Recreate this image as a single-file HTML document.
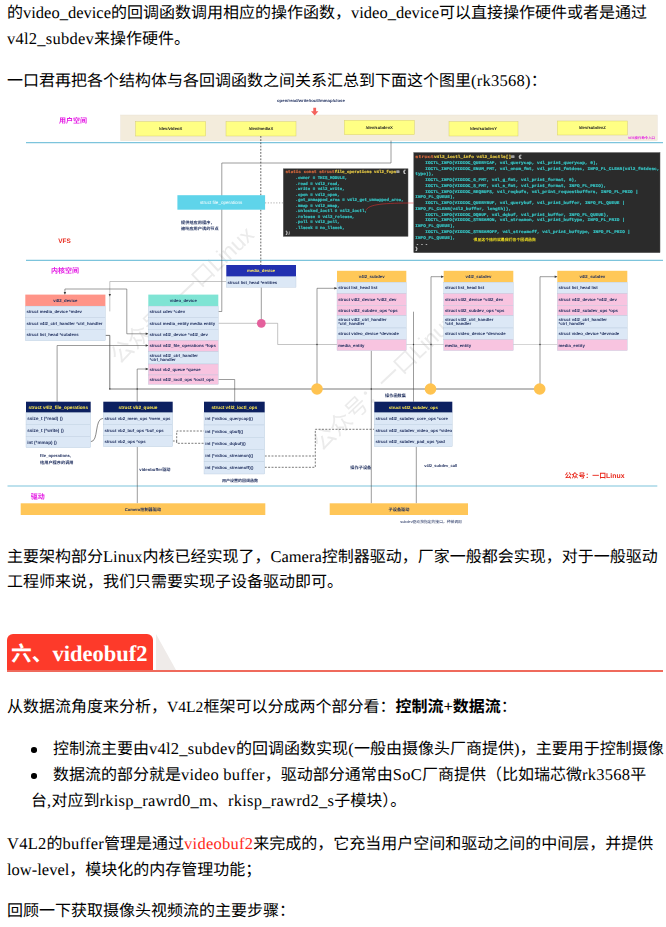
<!DOCTYPE html>
<html lang="zh">
<head>
<meta charset="utf-8">
<title>V4L2</title>
<style>
html,body{margin:0;padding:0;background:#fff;}
body{text-rendering:geometricPrecision;width:666px;height:927px;overflow:hidden;position:relative;font-family:"Liberation Serif",serif;color:#000;}
.t{position:absolute;left:7px;font-size:16px;line-height:26px;white-space:nowrap;margin:0;}
.t i{font-style:normal;font-size:16.5px;}
.w i{letter-spacing:.25px;}
.t i.c{font-size:15.6px;letter-spacing:0;}
.b{font-weight:bold;}
.red{color:#ff2a20;}
#h{position:absolute;left:7px;top:634px;width:656px;height:36px;border-bottom:2px solid #ef6a5c;}
#h .box{position:absolute;left:0;top:0;height:36px;width:146px;background:#fd3a2a;border-radius:6px 6px 0 0;color:#fff;font-weight:bold;font-size:20.8px;line-height:40px;text-indent:4px;white-space:nowrap;}
#h .box i{font-style:normal;font-size:22.5px;}
#h .tri{position:absolute;left:149px;top:0;width:0;height:0;border-bottom:36px solid #efebe9;border-right:20px solid transparent;}
.dot{position:absolute;width:5.6px;height:5.6px;border-radius:50%;background:#000;left:31.3px;}
#img{position:absolute;left:0px;top:92px;filter:blur(0.4px);}
.z{font-family:"Liberation Sans","Noto Sans CJK SC",sans-serif;line-height:0;letter-spacing:0;}
</style>
</head>
<body>
<p class="t" style="top:0px"><span class="z">的</span><i>video_device</i><span class="z">的回调函数调用相应的操作函数，</span><i>video_device</i><span class="z">可以直接操作硬件或者是通过</span></p>
<p class="t w" style="top:26px"><i>v4l2_subdev</i><span class="z">来操作硬件。</span></p>
<p class="t w" style="top:68px"><span class="z">一口君再把各个结构体与各回调函数之间关系汇总到下面这个图里</span><i>(rk3568)</i><span class="z">：</span></p>

<svg id="img" width="666" height="440" viewBox="0 368 2664 1760">
<g transform="rotate(-43.5 478 1460)"><text x="478" y="1460" font-size="89.2" fill="#ebebeb" font-family="Liberation Sans,Noto Sans CJK SC,sans-serif">公众号：一口</text><text x="1013.2" y="1460" font-size="89.2" fill="#ebebeb" font-family="Liberation Sans,sans-serif">Linux</text></g>
<g transform="rotate(-43.5 1286 1808)"><text x="1286" y="1808" font-size="89.2" fill="#ebebeb" font-family="Liberation Sans,Noto Sans CJK SC,sans-serif">公众号：一口</text><text x="1821.2" y="1808" font-size="89.2" fill="#ebebeb" font-family="Liberation Sans,sans-serif">Linux</text></g>
<text x="236" y="490.4" font-size="28" fill="#e41be4" font-weight="bold" font-family="Liberation Sans,Noto Sans CJK SC,sans-serif">用户空间</text>
<rect x="482.8" y="460" width="2146.4" height="102.8" fill="#f3ecdc" stroke="#e6dfd0" stroke-width="1.6"/>
<rect x="542.8" y="486.8" width="280" height="57.2" fill="#ffff84" stroke="#d8d070" stroke-width="2"/>
<text x="682.8" y="521" font-size="16.8" fill="#222" font-family="Liberation Sans,sans-serif" text-anchor="middle" font-weight="bold">/dev/videoX</text>
<rect x="904" y="486.8" width="280" height="57.2" fill="#ffff84" stroke="#d8d070" stroke-width="2"/>
<text x="1044" y="521" font-size="16.8" fill="#222" font-family="Liberation Sans,sans-serif" text-anchor="middle" font-weight="bold">/dev/mediaX</text>
<rect x="1377.2" y="481.2" width="280" height="57.6" fill="#ffff84" stroke="#d8d070" stroke-width="2"/>
<text x="1517.2" y="515.6" font-size="16.8" fill="#222" font-family="Liberation Sans,sans-serif" text-anchor="middle" font-weight="bold">/dev/subdevX</text>
<rect x="1796" y="486.8" width="276" height="57.2" fill="#ffff84" stroke="#d8d070" stroke-width="2"/>
<text x="1934" y="521" font-size="16.8" fill="#222" font-family="Liberation Sans,sans-serif" text-anchor="middle" font-weight="bold">/dev/subdevY</text>
<rect x="2229.2" y="484" width="280" height="56" fill="#ffff84" stroke="#d8d070" stroke-width="2"/>
<text x="2369.2" y="517.6" font-size="16.8" fill="#222" font-family="Liberation Sans,sans-serif" text-anchor="middle" font-weight="bold">/dev/subdevZ</text>
<text x="1108" y="408" font-size="17.2" fill="#1c2c5c" font-family="Liberation Sans,sans-serif" font-weight="bold">open/read/write/ioctl/mmap/close</text>
<polygon points="1253.2,431.2 1264.4,431.2 1264.4,444.8 1273.6,444.8 1258.8,461.6 1244,444.8 1253.2,444.8" fill="#f4625c"/>
<text x="2512" y="556.8" font-size="13.6" fill="#e41be4" font-family="Liberation Sans,sans-serif" font-weight="bold">VFS</text><text x="2538.45" y="556.8" font-size="13.6" fill="#e41be4" font-weight="bold" font-family="Liberation Sans,Noto Sans CJK SC,sans-serif">操作命令入口</text>
<polyline points="104,570.4 2652,570.4" fill="none" stroke="#7cc4dc" stroke-width="5.6"/>
<polyline points="104,1041.6 2652,1041.6" fill="none" stroke="#7cc4dc" stroke-width="4.4"/>
<polyline points="30,1944 2629.2,1944" fill="none" stroke="#7cc4dc" stroke-width="4.8"/>
<text x="233.2" y="970" font-size="25.6" fill="#e8281c" font-family="Liberation Sans,sans-serif" font-weight="bold">VFS</text>
<text x="204" y="1092.8" font-size="28" fill="#e41be4" font-weight="bold" font-family="Liberation Sans,Noto Sans CJK SC,sans-serif">内核空间</text>
<text x="122.8" y="1994" font-size="28" fill="#e41be4" font-weight="bold" font-family="Liberation Sans,Noto Sans CJK SC,sans-serif">驱动</text>
<polyline points="1564,562.8 1564,652 887.2,652 887.2,1246 873.2,1246" fill="none" stroke="#4a4a4a" stroke-width="2.2"/>
<polyline points="905.2,1126 439.2,1126 439.2,1245.6" fill="none" stroke="#888" stroke-width="2"/>
<polyline points="1043.2,544 1043.2,1060" fill="none" stroke="#222" stroke-width="2.8" stroke-dasharray="7.2 5.6"/>
<polyline points="1060,811.6 1134,811.6" fill="none" stroke="#666" stroke-width="2.2" stroke-dasharray="4.8 6.4"/>
<polyline points="259.6,1178 259.6,1156 507.2,1156 507.2,1335.2 593.2,1335.2" fill="none" stroke="#4a4a4a" stroke-width="2.2"/>
<polyline points="421.6,1341.6 439.2,1341.6 439.2,1556 2160,1556" fill="none" stroke="#333" stroke-width="2.6"/>
<polyline points="593.2,1382 228.4,1382 228.4,1606.8" fill="none" stroke="#4a4a4a" stroke-width="2.2"/>
<polyline points="593.2,1476 548.8,1476 548.8,1606.8" fill="none" stroke="#4a4a4a" stroke-width="2.2"/>
<polyline points="873.2,1518 938.8,1518 938.8,1606.8" fill="none" stroke="#4a4a4a" stroke-width="2.2"/>
<polyline points="873.2,1293.2 1028,1293.2" fill="none" stroke="#888" stroke-width="2"/>
<polyline points="1045.2,1149.2 1045.2,1276" fill="none" stroke="#4a4a4a" stroke-width="2.2"/>
<polyline points="1062,1293.2 1110.8,1293.2 1110.8,1378 1348,1378" fill="none" stroke="#888" stroke-width="2"/>
<polyline points="1625.2,1378 2229.2,1378" fill="none" stroke="#aaa" stroke-width="2"/>
<polyline points="1348,1153.2 1268,1153.2 1268,1556" fill="none" stroke="#4a4a4a" stroke-width="2.2"/>
<polyline points="1774.8,1106.8 1724,1106.8 1724,1556" fill="none" stroke="#4a4a4a" stroke-width="2.2"/>
<polyline points="2229.2,1106.8 2160,1106.8 2160,1556" fill="none" stroke="#4a4a4a" stroke-width="2.2"/>
<polyline points="1654,1246.8 1654,1606.8" fill="none" stroke="#4a4a4a" stroke-width="2.2"/>
<polyline points="1485.2,1402.8 1485.2,2013.2" fill="none" stroke="#4a4a4a" stroke-width="2.2"/>
<polyline points="1665.2,1786.8 1665.2,2013.2" fill="none" stroke="#4a4a4a" stroke-width="2.2"/>
<polyline points="549.2,1786.8 549.2,2013.2" fill="none" stroke="#4a4a4a" stroke-width="2.2"/>
<polyline points="690.8,1764 706.8,1764 706.8,1724 816,1724" fill="none" stroke="#333" stroke-width="2.6" stroke-dasharray="8 5.6"/>
<polyline points="706.8,1764 706.8,1773.2 816,1773.2" fill="none" stroke="#333" stroke-width="2.6" stroke-dasharray="8 5.6"/>
<polyline points="1058.8,1824 1261.2,1824" fill="none" stroke="#333" stroke-width="2.6" stroke-dasharray="8 5.6"/>
<polyline points="1058.8,1869.2 1261.2,1869.2 1261.2,1717.2 1497.2,1717.2" fill="none" stroke="#333" stroke-width="2.6" stroke-dasharray="8 5.6"/>
<path d="M362.8 1766.8 C396 1766.8 376 1673.2 413.2 1673.2" fill="none" stroke="#3a3a3a" stroke-width="2.4"/>
<circle cx="1268" cy="1378" r="2.8" fill="#3a3a3a"/>
<circle cx="1485.2" cy="1556" r="2.8" fill="#3a3a3a"/>
<circle cx="1654" cy="1378" r="2.8" fill="#3a3a3a"/>
<circle cx="1724" cy="1378" r="2.8" fill="#3a3a3a"/>
<circle cx="2160" cy="1378" r="2.8" fill="#3a3a3a"/>
<circle cx="439.2" cy="1556" r="2.8" fill="#3a3a3a"/>
<circle cx="548.8" cy="1556" r="2.8" fill="#3a3a3a"/>
<polygon points="254.8,1167.6 264.4,1167.6 259.6,1178" fill="#3a3a3a"/>
<polygon points="434.4,1175.6 444,1175.6 439.2,1186" fill="#3a3a3a"/>
<polygon points="582.8,1330.4 582.8,1340 593.2,1335.2" fill="#3a3a3a"/>
<polygon points="582.8,1377.2 582.8,1386.8 593.2,1382" fill="#3a3a3a"/>
<polygon points="582.8,1471.2 582.8,1480.8 593.2,1476" fill="#3a3a3a"/>
<polygon points="1337.6,1148.4 1337.6,1158 1348,1153.2" fill="#3a3a3a"/>
<polygon points="1764.4,1102 1764.4,1111.6 1774.8,1106.8" fill="#3a3a3a"/>
<polygon points="2218.8,1102 2218.8,1111.6 2229.2,1106.8" fill="#3a3a3a"/>
<rect x="709.6" y="780.8" width="350.8" height="58" fill="#5fd4ea"/>
<text x="884.8" y="816" font-size="18.4" fill="#ffffff" font-family="Liberation Sans,sans-serif" text-anchor="middle">struct file_operations</text>
<text x="724" y="896" font-size="16.8" fill="#1c2c5c" font-weight="bold" font-family="Liberation Sans,Noto Sans CJK SC,sans-serif">提供给应用程序，</text>
<text x="724" y="919.2" font-size="16.8" fill="#1c2c5c" font-weight="bold" font-family="Liberation Sans,Noto Sans CJK SC,sans-serif">被响应用户读的节点</text>
<rect x="1133.2" y="675.2" width="498.8" height="270" fill="#2b2b2b" stroke="#555" stroke-width="2"/>
<text x="1142" y="693.6" font-size="16.8" fill="#d4683c" font-family="Liberation Mono,monospace" font-weight="bold" stroke-width="0.8" stroke="#d4683c" textLength="196.8" lengthAdjust="spacingAndGlyphs">static const struct </text>
<text x="1338.8" y="693.6" font-size="16.8" fill="#e2c544" font-family="Liberation Mono,monospace" font-weight="bold" stroke-width="0.8" stroke="#e2c544" textLength="246" lengthAdjust="spacingAndGlyphs">file_operations v4l2_fops</text>
<text x="1584.8" y="693.6" font-size="16.8" fill="#dddddd" font-family="Liberation Mono,monospace" font-weight="bold" stroke-width="0.8" stroke="#dddddd" textLength="39.4" lengthAdjust="spacingAndGlyphs"> = {</text>
<text x="1182" y="715.8" font-size="16.8" fill="#36c2c2" font-family="Liberation Mono,monospace" font-weight="bold" stroke-width="0.8" stroke="#36c2c2" textLength="206.6" lengthAdjust="spacingAndGlyphs">.owner = THIS_MODULE,</text>
<text x="1182" y="738" font-size="16.8" fill="#36c2c2" font-family="Liberation Mono,monospace" font-weight="bold" stroke-width="0.8" stroke="#36c2c2" textLength="177.1" lengthAdjust="spacingAndGlyphs">.read = v4l2_read,</text>
<text x="1182" y="760.2" font-size="16.8" fill="#36c2c2" font-family="Liberation Mono,monospace" font-weight="bold" stroke-width="0.8" stroke="#36c2c2" textLength="196.8" lengthAdjust="spacingAndGlyphs">.write = v4l2_write,</text>
<text x="1182" y="782.4" font-size="16.8" fill="#36c2c2" font-family="Liberation Mono,monospace" font-weight="bold" stroke-width="0.8" stroke="#36c2c2" textLength="177.1" lengthAdjust="spacingAndGlyphs">.open = v4l2_open,</text>
<text x="1182" y="804.6" font-size="16.8" fill="#36c2c2" font-family="Liberation Mono,monospace" font-weight="bold" stroke-width="0.8" stroke="#36c2c2" textLength="433" lengthAdjust="spacingAndGlyphs">.get_unmapped_area = v4l2_get_unmapped_area,</text>
<text x="1182" y="826.8" font-size="16.8" fill="#36c2c2" font-family="Liberation Mono,monospace" font-weight="bold" stroke-width="0.8" stroke="#36c2c2" textLength="177.1" lengthAdjust="spacingAndGlyphs">.mmap = v4l2_mmap,</text>
<text x="1182" y="849" font-size="16.8" fill="#36c2c2" font-family="Liberation Mono,monospace" font-weight="bold" stroke-width="0.8" stroke="#36c2c2" textLength="285.4" lengthAdjust="spacingAndGlyphs">.unlocked_ioctl = v4l2_ioctl,</text>
<text x="1182" y="871.2" font-size="16.8" fill="#36c2c2" font-family="Liberation Mono,monospace" font-weight="bold" stroke-width="0.8" stroke="#36c2c2" textLength="236.2" lengthAdjust="spacingAndGlyphs">.release = v4l2_release,</text>
<text x="1182" y="893.4" font-size="16.8" fill="#36c2c2" font-family="Liberation Mono,monospace" font-weight="bold" stroke-width="0.8" stroke="#36c2c2" textLength="177.1" lengthAdjust="spacingAndGlyphs">.poll = v4l2_poll,</text>
<text x="1182" y="915.6" font-size="16.8" fill="#36c2c2" font-family="Liberation Mono,monospace" font-weight="bold" stroke-width="0.8" stroke="#36c2c2" textLength="196.8" lengthAdjust="spacingAndGlyphs">.llseek = no_llseek,</text>
<text x="1142" y="937.8" font-size="16.8" fill="#ddd" font-family="Liberation Mono,monospace" font-weight="bold" stroke-width="0.8" stroke="#ddd" textLength="19.7" lengthAdjust="spacingAndGlyphs">};</text>
<rect x="1655.2" y="610.4" width="984.8" height="400.4" fill="#2b2b2b" stroke="#555" stroke-width="2"/>
<text x="1661.2" y="632" font-size="16.8" fill="#d4683c" font-family="Liberation Mono,monospace" font-weight="bold" stroke-width="0.8" stroke="#d4683c" textLength="74.5" lengthAdjust="spacingAndGlyphs">struct </text>
<text x="1735.7" y="632" font-size="16.8" fill="#e2c544" font-family="Liberation Mono,monospace" font-weight="bold" stroke-width="0.8" stroke="#e2c544" textLength="308.6" lengthAdjust="spacingAndGlyphs">v4l2_ioctl_info v4l2_ioctls[]</text>
<text x="2044.2" y="632" font-size="16.8" fill="#dddddd" font-family="Liberation Mono,monospace" font-weight="bold" stroke-width="0.8" stroke="#dddddd" textLength="42.6" lengthAdjust="spacingAndGlyphs"> = {</text>
<text x="1701.2" y="655.1" font-size="16.8" fill="#36c2c2" font-family="Liberation Mono,monospace" font-weight="bold" stroke-width="0.8" stroke="#36c2c2" textLength="691.6" lengthAdjust="spacingAndGlyphs">IOCTL_INFO(VIDIOC_QUERYCAP, v4l_querycap, v4l_print_querycap, 0),</text>
<text x="1701.2" y="678.2" font-size="16.8" fill="#36c2c2" font-family="Liberation Mono,monospace" font-weight="bold" stroke-width="0.8" stroke="#36c2c2" textLength="936.3" lengthAdjust="spacingAndGlyphs">IOCTL_INFO(VIDIOC_ENUM_FMT, v4l_enum_fmt, v4l_print_fmtdesc, INFO_FL_CLEAR(v4l2_fmtdesc,</text>
<text x="1661.2" y="701.2" font-size="16.8" fill="#36c2c2" font-family="Liberation Mono,monospace" font-weight="bold" stroke-width="0.8" stroke="#36c2c2" textLength="74.5" lengthAdjust="spacingAndGlyphs">type)),</text>
<text x="1701.2" y="724.3" font-size="16.8" fill="#36c2c2" font-family="Liberation Mono,monospace" font-weight="bold" stroke-width="0.8" stroke="#36c2c2" textLength="606.5" lengthAdjust="spacingAndGlyphs">IOCTL_INFO(VIDIOC_G_FMT, v4l_g_fmt, v4l_print_format, 0),</text>
<text x="1701.2" y="747.4" font-size="16.8" fill="#36c2c2" font-family="Liberation Mono,monospace" font-weight="bold" stroke-width="0.8" stroke="#36c2c2" textLength="723.5" lengthAdjust="spacingAndGlyphs">IOCTL_INFO(VIDIOC_S_FMT, v4l_s_fmt, v4l_print_format, INFO_FL_PRIO),</text>
<text x="1701.2" y="770.5" font-size="16.8" fill="#36c2c2" font-family="Liberation Mono,monospace" font-weight="bold" stroke-width="0.8" stroke="#36c2c2" textLength="851.2" lengthAdjust="spacingAndGlyphs">IOCTL_INFO(VIDIOC_REQBUFS, v4l_reqbufs, v4l_print_requestbuffers, INFO_FL_PRIO |</text>
<text x="1661.2" y="793.6" font-size="16.8" fill="#36c2c2" font-family="Liberation Mono,monospace" font-weight="bold" stroke-width="0.8" stroke="#36c2c2" textLength="159.6" lengthAdjust="spacingAndGlyphs">INFO_FL_QUEUE),</text>
<text x="1701.2" y="816.6" font-size="16.8" fill="#36c2c2" font-family="Liberation Mono,monospace" font-weight="bold" stroke-width="0.8" stroke="#36c2c2" textLength="798" lengthAdjust="spacingAndGlyphs">IOCTL_INFO(VIDIOC_QUERYBUF, v4l_querybuf, v4l_print_buffer, INFO_FL_QUEUE |</text>
<text x="1661.2" y="839.7" font-size="16.8" fill="#36c2c2" font-family="Liberation Mono,monospace" font-weight="bold" stroke-width="0.8" stroke="#36c2c2" textLength="383" lengthAdjust="spacingAndGlyphs">INFO_FL_CLEAR(v4l2_buffer, length)),</text>
<text x="1701.2" y="862.8" font-size="16.8" fill="#36c2c2" font-family="Liberation Mono,monospace" font-weight="bold" stroke-width="0.8" stroke="#36c2c2" textLength="734.2" lengthAdjust="spacingAndGlyphs">IOCTL_INFO(VIDIOC_DQBUF, v4l_dqbuf, v4l_print_buffer, INFO_FL_QUEUE),</text>
<text x="1701.2" y="885.9" font-size="16.8" fill="#36c2c2" font-family="Liberation Mono,monospace" font-weight="bold" stroke-width="0.8" stroke="#36c2c2" textLength="798" lengthAdjust="spacingAndGlyphs">IOCTL_INFO(VIDIOC_STREAMON, v4l_streamon, v4l_print_buftype, INFO_FL_PRIO |</text>
<text x="1661.2" y="909" font-size="16.8" fill="#36c2c2" font-family="Liberation Mono,monospace" font-weight="bold" stroke-width="0.8" stroke="#36c2c2" textLength="159.6" lengthAdjust="spacingAndGlyphs">INFO_FL_QUEUE),</text>
<text x="1701.2" y="932" font-size="16.8" fill="#36c2c2" font-family="Liberation Mono,monospace" font-weight="bold" stroke-width="0.8" stroke="#36c2c2" textLength="819.3" lengthAdjust="spacingAndGlyphs">IOCTL_INFO(VIDIOC_STREAMOFF, v4l_streamoff, v4l_print_buftype, INFO_FL_PRIO |</text>
<text x="1661.2" y="955.1" font-size="16.8" fill="#36c2c2" font-family="Liberation Mono,monospace" font-weight="bold" stroke-width="0.8" stroke="#36c2c2" textLength="159.6" lengthAdjust="spacingAndGlyphs">INFO_FL_QUEUE),</text>
<text x="1661.2" y="978.2" font-size="16.8" fill="#ddd" font-family="Liberation Mono,monospace" font-weight="bold" stroke-width="0.8" stroke="#ddd" textLength="53.2" lengthAdjust="spacingAndGlyphs">  ...</text>
<text x="1661.2" y="1001.3" font-size="16.8" fill="#ddd" font-family="Liberation Mono,monospace" font-weight="bold" stroke-width="0.8" stroke="#ddd" textLength="10.6" lengthAdjust="spacingAndGlyphs">}</text>
<path d="M1464 842 C1472 816 1540 812 1654.8 812" fill="none" stroke="#e83030" stroke-width="2.2"/>
<text x="1894" y="962" font-size="15.6" fill="#f0e020" font-weight="bold" font-family="Liberation Sans,Noto Sans CJK SC,sans-serif">很显这个结构就是我们各个回调函数</text>
<rect x="101.2" y="1178.4" width="320.4" height="46" fill="#ff9488"/>
<text x="261.4" y="1207.4" font-size="17.2" fill="#1c2c5c" font-family="Liberation Sans,sans-serif" text-anchor="middle" font-weight="bold">v4l2_device</text>
<rect x="101.2" y="1224.4" width="320.4" height="45.6" fill="#dce8f6" stroke="#b4c6da" stroke-width="1.4"/>
<text x="106" y="1253.2" font-size="17.2" fill="#1c2c5c" font-family="Liberation Sans,sans-serif" font-weight="bold">struct media_device *mdev</text>
<rect x="101.2" y="1270" width="320.4" height="46.8" fill="#dce8f6" stroke="#b4c6da" stroke-width="1.4"/>
<text x="106" y="1299.4" font-size="17.2" fill="#1c2c5c" font-family="Liberation Sans,sans-serif" font-weight="bold">struct v4l2_ctrl_handler *ctrl_handler</text>
<rect x="101.2" y="1316.8" width="320.4" height="46" fill="#dce8f6" stroke="#b4c6da" stroke-width="1.4"/>
<text x="106" y="1345.8" font-size="17.2" fill="#1c2c5c" font-family="Liberation Sans,sans-serif" font-weight="bold">struct list_head *subdevs</text>
<rect x="593.2" y="1178.4" width="280" height="46" fill="#7fe4d4"/>
<text x="733.2" y="1207.4" font-size="17.2" fill="#1c2c5c" font-family="Liberation Sans,sans-serif" text-anchor="middle" font-weight="bold">video_device</text>
<rect x="593.2" y="1224.4" width="280" height="45.6" fill="#dce8f6" stroke="#b4c6da" stroke-width="1.4"/>
<text x="598" y="1253.2" font-size="17.2" fill="#1c2c5c" font-family="Liberation Sans,sans-serif" font-weight="bold">struct cdev *cdev</text>
<rect x="593.2" y="1270" width="280" height="46.8" fill="#dce8f6" stroke="#b4c6da" stroke-width="1.4"/>
<text x="598" y="1299.4" font-size="17.2" fill="#1c2c5c" font-family="Liberation Sans,sans-serif" font-weight="bold">struct media_entity media entity</text>
<rect x="593.2" y="1316.8" width="280" height="44" fill="#dce8f6" stroke="#b4c6da" stroke-width="1.4"/>
<text x="598" y="1344.8" font-size="17.2" fill="#1c2c5c" font-family="Liberation Sans,sans-serif" font-weight="bold">struct v4l2_device *v4l2_dev</text>
<rect x="593.2" y="1360.8" width="280" height="46" fill="#f8c4e0" stroke="#b4c6da" stroke-width="1.4"/>
<text x="598" y="1389.8" font-size="17.2" fill="#1c2c5c" font-family="Liberation Sans,sans-serif" font-weight="bold">struct v4l2_file_operations *fops</text>
<rect x="593.2" y="1406.8" width="280" height="49.2" fill="#dce8f6" stroke="#b4c6da" stroke-width="1.4"/>
<text x="598" y="1427.8" font-size="17.2" fill="#1c2c5c" font-family="Liberation Sans,sans-serif" font-weight="bold">struct v4l2_ctrl_handler</text>
<text x="598" y="1445.8" font-size="17.2" fill="#1c2c5c" font-family="Liberation Sans,sans-serif" font-weight="bold">*ctrl_handler</text>
<rect x="593.2" y="1456" width="280" height="44" fill="#f8c4e0" stroke="#b4c6da" stroke-width="1.4"/>
<text x="598" y="1484" font-size="17.2" fill="#1c2c5c" font-family="Liberation Sans,sans-serif" font-weight="bold">struct vb2_queue *queue</text>
<rect x="593.2" y="1500" width="280" height="37.6" fill="#f8c4e0" stroke="#b4c6da" stroke-width="1.4"/>
<text x="598" y="1524.8" font-size="17.2" fill="#1c2c5c" font-family="Liberation Sans,sans-serif" font-weight="bold">struct v4l2_ioctl_ops *ioctl_ops</text>
<rect x="905.2" y="1060" width="278.8" height="46.8" fill="#2230b0"/>
<text x="1044.6" y="1089.4" font-size="17.2" fill="#ffe860" font-family="Liberation Sans,sans-serif" text-anchor="middle" font-weight="bold">media_device</text>
<rect x="905.2" y="1106.8" width="278.8" height="42.4" fill="#dce8f6" stroke="#b4c6da" stroke-width="1.4"/>
<text x="910" y="1134" font-size="17.2" fill="#1c2c5c" font-family="Liberation Sans,sans-serif" font-weight="bold">struct list_head *entities</text>
<rect x="1348" y="1083.2" width="277.2" height="45.6" fill="#ffc858"/>
<text x="1486.6" y="1112" font-size="17.2" fill="#1c2c5c" font-family="Liberation Sans,sans-serif" text-anchor="middle" font-weight="bold">v4l2_subdev</text>
<rect x="1348" y="1128.8" width="277.2" height="44.8" fill="#dce8f6" stroke="#b4c6da" stroke-width="1.4"/>
<text x="1352.8" y="1157.2" font-size="17.2" fill="#1c2c5c" font-family="Liberation Sans,sans-serif" font-weight="bold">struct list_head list</text>
<rect x="1348" y="1173.6" width="277.2" height="47.2" fill="#f8c4e0" stroke="#b4c6da" stroke-width="1.4"/>
<text x="1352.8" y="1203.2" font-size="17.2" fill="#1c2c5c" font-family="Liberation Sans,sans-serif" font-weight="bold">struct v4l2_device *v4l2_dev</text>
<rect x="1348" y="1220.8" width="277.2" height="42" fill="#f8c4e0" stroke="#b4c6da" stroke-width="1.4"/>
<text x="1352.8" y="1247.8" font-size="17.2" fill="#1c2c5c" font-family="Liberation Sans,sans-serif" font-weight="bold">struct v4l2_subdev_ops *ops</text>
<rect x="1348" y="1262.8" width="277.2" height="49.2" fill="#dce8f6" stroke="#b4c6da" stroke-width="1.4"/>
<text x="1352.8" y="1283.8" font-size="17.2" fill="#1c2c5c" font-family="Liberation Sans,sans-serif" font-weight="bold">struct v4l2_ctrl_handler</text>
<text x="1352.8" y="1301.8" font-size="17.2" fill="#1c2c5c" font-family="Liberation Sans,sans-serif" font-weight="bold">*ctrl_handler</text>
<rect x="1348" y="1312" width="277.2" height="46" fill="#dce8f6" stroke="#b4c6da" stroke-width="1.4"/>
<text x="1352.8" y="1341" font-size="17.2" fill="#1c2c5c" font-family="Liberation Sans,sans-serif" font-weight="bold">struct video_device *devnode</text>
<rect x="1348" y="1358" width="277.2" height="44.4" fill="#f8c4e0" stroke="#b4c6da" stroke-width="1.4"/>
<text x="1352.8" y="1386.2" font-size="17.2" fill="#1c2c5c" font-family="Liberation Sans,sans-serif" font-weight="bold">media_entity</text>
<rect x="1774.8" y="1083.2" width="278.4" height="45.6" fill="#ffc858"/>
<text x="1914" y="1112" font-size="17.2" fill="#1c2c5c" font-family="Liberation Sans,sans-serif" text-anchor="middle" font-weight="bold">v4l2_subdev</text>
<rect x="1774.8" y="1128.8" width="278.4" height="44.8" fill="#dce8f6" stroke="#b4c6da" stroke-width="1.4"/>
<text x="1779.6" y="1157.2" font-size="17.2" fill="#1c2c5c" font-family="Liberation Sans,sans-serif" font-weight="bold">struct list_head list</text>
<rect x="1774.8" y="1173.6" width="278.4" height="47.2" fill="#f8c4e0" stroke="#b4c6da" stroke-width="1.4"/>
<text x="1779.6" y="1203.2" font-size="17.2" fill="#1c2c5c" font-family="Liberation Sans,sans-serif" font-weight="bold">struct v4l2_device *v4l2_dev</text>
<rect x="1774.8" y="1220.8" width="278.4" height="42" fill="#f8c4e0" stroke="#b4c6da" stroke-width="1.4"/>
<text x="1779.6" y="1247.8" font-size="17.2" fill="#1c2c5c" font-family="Liberation Sans,sans-serif" font-weight="bold">struct v4l2_subdev_ops *ops</text>
<rect x="1774.8" y="1262.8" width="278.4" height="49.2" fill="#dce8f6" stroke="#b4c6da" stroke-width="1.4"/>
<text x="1779.6" y="1283.8" font-size="17.2" fill="#1c2c5c" font-family="Liberation Sans,sans-serif" font-weight="bold">struct v4l2_ctrl_handler</text>
<text x="1779.6" y="1301.8" font-size="17.2" fill="#1c2c5c" font-family="Liberation Sans,sans-serif" font-weight="bold">*ctrl_handler</text>
<rect x="1774.8" y="1312" width="278.4" height="46" fill="#dce8f6" stroke="#b4c6da" stroke-width="1.4"/>
<text x="1779.6" y="1341" font-size="17.2" fill="#1c2c5c" font-family="Liberation Sans,sans-serif" font-weight="bold">struct video_device *devnode</text>
<rect x="1774.8" y="1358" width="278.4" height="44.4" fill="#f8c4e0" stroke="#b4c6da" stroke-width="1.4"/>
<text x="1779.6" y="1386.2" font-size="17.2" fill="#1c2c5c" font-family="Liberation Sans,sans-serif" font-weight="bold">media_entity</text>
<rect x="2229.2" y="1083.2" width="280" height="45.6" fill="#ffc858"/>
<text x="2369.2" y="1112" font-size="17.2" fill="#1c2c5c" font-family="Liberation Sans,sans-serif" text-anchor="middle" font-weight="bold">v4l2_subdev</text>
<rect x="2229.2" y="1128.8" width="280" height="44.8" fill="#dce8f6" stroke="#b4c6da" stroke-width="1.4"/>
<text x="2234" y="1157.2" font-size="17.2" fill="#1c2c5c" font-family="Liberation Sans,sans-serif" font-weight="bold">struct list_head list</text>
<rect x="2229.2" y="1173.6" width="280" height="47.2" fill="#f8c4e0" stroke="#b4c6da" stroke-width="1.4"/>
<text x="2234" y="1203.2" font-size="17.2" fill="#1c2c5c" font-family="Liberation Sans,sans-serif" font-weight="bold">struct v4l2_device *v4l2_dev</text>
<rect x="2229.2" y="1220.8" width="280" height="42" fill="#f8c4e0" stroke="#b4c6da" stroke-width="1.4"/>
<text x="2234" y="1247.8" font-size="17.2" fill="#1c2c5c" font-family="Liberation Sans,sans-serif" font-weight="bold">struct v4l2_subdev_ops *ops</text>
<rect x="2229.2" y="1262.8" width="280" height="49.2" fill="#dce8f6" stroke="#b4c6da" stroke-width="1.4"/>
<text x="2234" y="1283.8" font-size="17.2" fill="#1c2c5c" font-family="Liberation Sans,sans-serif" font-weight="bold">struct v4l2_ctrl_handler</text>
<text x="2234" y="1301.8" font-size="17.2" fill="#1c2c5c" font-family="Liberation Sans,sans-serif" font-weight="bold">*ctrl_handler</text>
<rect x="2229.2" y="1312" width="280" height="46" fill="#dce8f6" stroke="#b4c6da" stroke-width="1.4"/>
<text x="2234" y="1341" font-size="17.2" fill="#1c2c5c" font-family="Liberation Sans,sans-serif" font-weight="bold">struct video_device *devnode</text>
<rect x="2229.2" y="1358" width="280" height="44.4" fill="#f8c4e0" stroke="#b4c6da" stroke-width="1.4"/>
<text x="2234" y="1386.2" font-size="17.2" fill="#1c2c5c" font-family="Liberation Sans,sans-serif" font-weight="bold">media_entity</text>
<rect x="104" y="1606.8" width="258.8" height="44" fill="#0c2060"/>
<text x="233.4" y="1634.8" font-size="18.8" fill="#ffe850" font-family="Liberation Sans,sans-serif" text-anchor="middle" font-weight="bold">struct v4l2_file_operations</text>
<rect x="104" y="1650.8" width="258.8" height="46.4" fill="#dce8f6" stroke="#b4c6da" stroke-width="1.4"/>
<text x="108.8" y="1680" font-size="18.4" fill="#1c2c5c" font-family="Liberation Sans,sans-serif" font-weight="bold">ssize_t (*read) ()</text>
<rect x="104" y="1697.2" width="258.8" height="48.8" fill="#dce8f6" stroke="#b4c6da" stroke-width="1.4"/>
<text x="108.8" y="1727.6" font-size="18.4" fill="#1c2c5c" font-family="Liberation Sans,sans-serif" font-weight="bold">ssize_t (*write) ()</text>
<rect x="104" y="1746" width="258.8" height="44.8" fill="#dce8f6" stroke="#b4c6da" stroke-width="1.4"/>
<text x="108.8" y="1774.4" font-size="18.4" fill="#1c2c5c" font-family="Liberation Sans,sans-serif" font-weight="bold">int (*mmap) ()</text>
<rect x="413.2" y="1606.8" width="277.6" height="44" fill="#0c2060"/>
<text x="552" y="1634.8" font-size="18.8" fill="#ffe850" font-family="Liberation Sans,sans-serif" text-anchor="middle" font-weight="bold">struct vb2_queue</text>
<rect x="413.2" y="1650.8" width="277.6" height="46.4" fill="#dce8f6" stroke="#b4c6da" stroke-width="1.4"/>
<text x="418" y="1680" font-size="17.2" fill="#1c2c5c" font-family="Liberation Sans,sans-serif" font-weight="bold">struct vb2_mem_ops *mem_ops</text>
<rect x="413.2" y="1697.2" width="277.6" height="45.6" fill="#dce8f6" stroke="#b4c6da" stroke-width="1.4"/>
<text x="418" y="1726" font-size="17.2" fill="#1c2c5c" font-family="Liberation Sans,sans-serif" font-weight="bold">struct vb2_buf_ops *buf_ops</text>
<rect x="413.2" y="1742.8" width="277.6" height="44" fill="#dce8f6" stroke="#b4c6da" stroke-width="1.4"/>
<text x="418" y="1770.8" font-size="17.2" fill="#1c2c5c" font-family="Liberation Sans,sans-serif" font-weight="bold">struct vb2_ops   *ops</text>
<rect x="816" y="1606.8" width="242.8" height="44" fill="#0c2060"/>
<text x="937.4" y="1634.8" font-size="18.4" fill="#ffe850" font-family="Liberation Sans,sans-serif" text-anchor="middle" font-weight="bold">struct v4l2_ioctl_ops</text>
<rect x="816" y="1650.8" width="242.8" height="49.2" fill="#dce8f6" stroke="#b4c6da" stroke-width="1.4"/>
<text x="820.8" y="1681.4" font-size="17.2" fill="#1c2c5c" font-family="Liberation Sans,sans-serif" font-weight="bold">int (*vidioc_querycap)()</text>
<rect x="816" y="1700" width="242.8" height="49.2" fill="#dce8f6" stroke="#b4c6da" stroke-width="1.4"/>
<text x="820.8" y="1730.6" font-size="17.2" fill="#1c2c5c" font-family="Liberation Sans,sans-serif" font-weight="bold">int (*vidioc_qbuf)()</text>
<rect x="816" y="1749.2" width="242.8" height="48" fill="#dce8f6" stroke="#b4c6da" stroke-width="1.4"/>
<text x="820.8" y="1779.2" font-size="17.2" fill="#1c2c5c" font-family="Liberation Sans,sans-serif" font-weight="bold">int (*vidioc_dqbuf)()</text>
<rect x="816" y="1797.2" width="242.8" height="49.6" fill="#dce8f6" stroke="#b4c6da" stroke-width="1.4"/>
<text x="820.8" y="1828" font-size="17.2" fill="#1c2c5c" font-family="Liberation Sans,sans-serif" font-weight="bold">int (*vidioc_streamon)()</text>
<rect x="816" y="1846.8" width="242.8" height="49.2" fill="#dce8f6" stroke="#b4c6da" stroke-width="1.4"/>
<text x="820.8" y="1877.4" font-size="17.2" fill="#1c2c5c" font-family="Liberation Sans,sans-serif" font-weight="bold">int (*vidioc_streamoff)()</text>
<rect x="1497.2" y="1606.8" width="312" height="44" fill="#0c2060"/>
<text x="1653.2" y="1634.8" font-size="17.2" fill="#ffe850" font-family="Liberation Sans,sans-serif" text-anchor="middle" font-weight="bold">struct v4l2_subdev_ops</text>
<rect x="1497.2" y="1650.8" width="312" height="46.4" fill="#dce8f6" stroke="#b4c6da" stroke-width="1.4"/>
<text x="1502" y="1680" font-size="17.2" fill="#1c2c5c" font-family="Liberation Sans,sans-serif" font-weight="bold">struct v4l2_subdev_core_ops  *core</text>
<rect x="1497.2" y="1697.2" width="312" height="45.6" fill="#dce8f6" stroke="#b4c6da" stroke-width="1.4"/>
<text x="1502" y="1726" font-size="17.2" fill="#1c2c5c" font-family="Liberation Sans,sans-serif" font-weight="bold">struct v4l2_subdev_video_ops *video</text>
<rect x="1497.2" y="1742.8" width="312" height="44" fill="#dce8f6" stroke="#b4c6da" stroke-width="1.4"/>
<text x="1502" y="1770.8" font-size="17.2" fill="#1c2c5c" font-family="Liberation Sans,sans-serif" font-weight="bold">struct v4l2_subdev_pad_ops   *pad</text>
<circle cx="1045.2" cy="1293.2" r="17.6" fill="#e4609c"/>
<circle cx="1268" cy="1556" r="23.2" fill="#ffc350"/>
<circle cx="1722" cy="1556" r="23.2" fill="#ffc350"/>
<circle cx="2158.8" cy="1556" r="23.2" fill="#ffc350"/>
<text x="160" y="1828.8" font-size="16.8" fill="#1c2c5c" font-family="Liberation Sans,sans-serif" font-weight="bold">file_operations,</text>
<text x="160" y="1855.2" font-size="16.8" fill="#1c2c5c" font-weight="bold" font-family="Liberation Sans,Noto Sans CJK SC,sans-serif">给用户程序的调用</text>
<text x="557.2" y="1882" font-size="16.8" fill="#1c2c5c" font-family="Liberation Sans,sans-serif" font-weight="bold">videobuffer</text><text x="648.67" y="1882" font-size="16.8" fill="#1c2c5c" font-weight="bold" font-family="Liberation Sans,Noto Sans CJK SC,sans-serif">驱动</text>
<text x="888" y="1928.8" font-size="16" fill="#1c2c5c" font-weight="bold" font-family="Liberation Sans,Noto Sans CJK SC,sans-serif">用户设置的回调函数</text>
<text x="1540" y="1588.8" font-size="16.8" fill="#1c2c5c" font-weight="bold" font-family="Liberation Sans,Noto Sans CJK SC,sans-serif">操作函数集</text>
<text x="1401.2" y="1875.2" font-size="16.8" fill="#1c2c5c" font-weight="bold" font-family="Liberation Sans,Noto Sans CJK SC,sans-serif">操作子设备</text>
<text x="1697.2" y="1868.8" font-size="16" fill="#1c2c5c" font-family="Liberation Sans,sans-serif" font-weight="bold">v4l2_subdev_call</text>
<text x="2258.8" y="1913.6" font-size="27.6" fill="#e8281c" font-weight="bold" font-family="Liberation Sans,Noto Sans CJK SC,sans-serif">公众号：一口</text><text x="2424.4" y="1913.6" font-size="27.6" fill="#e8281c" font-family="Liberation Sans,sans-serif" font-weight="bold">Linux</text>
<rect x="82.8" y="2013.2" width="978.4" height="46.8" fill="#ffc658"/>
<text x="499.18" y="2042.4" font-size="16.8" fill="#1c2c5c" font-family="Liberation Sans,sans-serif" font-weight="bold">Camera</text><text x="560.82" y="2042.4" font-size="16.8" fill="#1c2c5c" font-weight="bold" font-family="Liberation Sans,Noto Sans CJK SC,sans-serif">控制器驱动</text>
<rect x="1318.8" y="2013.2" width="553.2" height="46.8" fill="#ffc658"/>
<text x="1554" y="2042.4" font-size="16.8" fill="#1c2c5c" font-weight="bold" font-family="Liberation Sans,Noto Sans CJK SC,sans-serif">子设备驱动</text>
<text x="1601.2" y="2092.8" font-size="15.2" fill="#1c2c5c" font-family="Liberation Sans,sans-serif">subdev</text><text x="1650.21" y="2092.8" font-size="15.2" fill="#1c2c5c" font-family="Liberation Sans,Noto Sans CJK SC,sans-serif">驱动按指定的接口，种被调用</text>
</svg>

<p class="t" style="top:544px"><span class="z">主要架构部分</span><i>Linux</i><span class="z">内核已经实现了，</span><i>Camera</i><span class="z">控制器驱动，厂家一般都会实现，对于一般驱动</span></p>
<p class="t" style="top:570px"><span class="z">工程师来说，我们只需要实现子设备驱动即可。</span></p>

<div id="h"><div class="box"><span class="z">六、</span><i>videobuf2</i></div><div class="tri"></div></div>

<p class="t" style="top:694px"><span class="z">从数据流角度来分析，</span><i class="c">V4L2</i><span class="z">框架可以分成两个部分看：</span><span class="b"><span class="z">控制流</span><i>+</i><span class="z">数据流</span></span><span class="z">：</span></p>
<span class="dot" style="top:747px"></span>
<p class="t w" style="top:736px;left:53px"><span class="z">控制流主要由</span><i>v4l2_subdev</i><span class="z">的回调函数实现</span><i>(</i><span class="z">一般由摄像头厂商提供</span><i>)</i><span class="z">，主要用于控制摄像</span></p>
<span class="dot" style="top:773px"></span>
<p class="t w" style="top:762px;left:53px"><span class="z">数据流的部分就是</span><i>video buffer</i><span class="z">，驱动部分通常由</span><i>SoC</i><span class="z">厂商提供（比如瑞芯微</span><i>rk3568</i><span class="z">平</span></p>
<p class="t w" style="top:788px;left:31px"><span class="z">台</span><i>,</i><span class="z">对应到</span><i>rkisp_rawrd0_m</i><span class="z">、</span><i>rkisp_rawrd2_s</i><span class="z">子模块）。</span></p>
<p class="t w" style="top:831px"><i>V4L2</i><span class="z">的</span><i>buffer</i><span class="z">管理是通过</span><span class="red"><i>videobuf2</i></span><span class="z">来完成的，它充当用户空间和驱动之间的中间层，并提供</span></p>
<p class="t" style="top:857px"><i>low-level</i><span class="z">，模块化的内存管理功能；</span></p>
<p class="t" style="top:899px"><span class="z">回顾一下获取摄像头视频流的主要步骤：</span></p>
</body>
</html>
